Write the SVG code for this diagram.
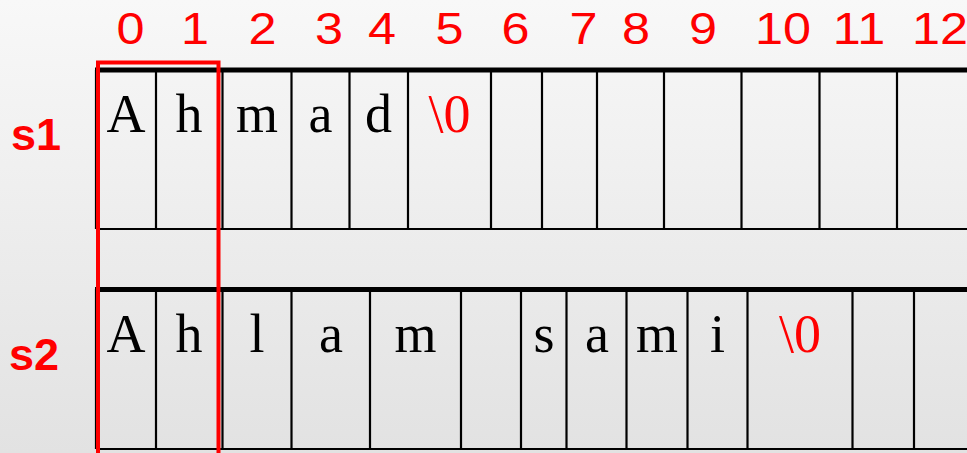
<svg xmlns="http://www.w3.org/2000/svg" width="967" height="453" viewBox="0 0 967 453">
<defs>
<linearGradient id="bg" x1="0" y1="0" x2="0" y2="1">
<stop offset="0" stop-color="#f8f8f8"/>
<stop offset="1" stop-color="#e2e2e2"/>
</linearGradient>
</defs>
<style>
.idx{font-family:"Liberation Sans",Arial,sans-serif;font-size:45px;fill:#ff0000;text-anchor:middle}
.lbl{font-family:"Liberation Sans",Arial,sans-serif;font-size:45px;font-weight:bold;fill:#ff0000}
.ch{font-family:"Liberation Serif","Times New Roman",serif;font-size:54px;fill:#000;text-anchor:middle}
.nul{fill:#ff0000}
.thick{stroke:#000;stroke-width:5;fill:none}
.thin{stroke:#000;stroke-width:2.2;fill:none}
.hl{stroke:#ff0000;stroke-width:4;fill:none}
</style>
<rect x="0" y="0" width="967" height="453" fill="url(#bg)"/>

<g id="indices">
<text class="idx" transform="translate(130.5,44) scale(1.12,1)">0</text>
<text class="idx" transform="translate(195,44) scale(1.12,1)">1</text>
<text class="idx" transform="translate(262.5,44) scale(1.12,1)">2</text>
<text class="idx" transform="translate(329,44) scale(1.12,1)">3</text>
<text class="idx" transform="translate(382,44) scale(1.12,1)">4</text>
<text class="idx" transform="translate(449.5,44) scale(1.12,1)">5</text>
<text class="idx" transform="translate(515.5,44) scale(1.12,1)">6</text>
<text class="idx" transform="translate(583.5,44) scale(1.12,1)">7</text>
<text class="idx" transform="translate(636,44) scale(1.12,1)">8</text>
<text class="idx" transform="translate(703,44) scale(1.12,1)">9</text>
<text class="idx" transform="translate(783,44) scale(1.12,1)">10</text>
<text class="idx" transform="translate(859,44) scale(1.12,1)">11</text>
<text class="idx" transform="translate(940,44) scale(1.12,1)">12</text>
</g>

<g id="s1">
<text class="lbl" x="11" y="150">s1</text>
<line class="thin" x1="96" y1="229" x2="967" y2="229"/>
<path class="thin" d="M96,70V229 M156,70V229 M222.5,70V229 M291.5,70V229 M349.5,70V229 M408,70V229 M491,70V229 M542,70V229 M597,70V229 M664,70V229 M741.5,70V229 M819.5,70V229 M897,70V229"/>
<line class="thick" x1="95" y1="70" x2="967" y2="70"/>
<text class="ch" x="126" y="132">A</text>
<text class="ch" x="189" y="132">h</text>
<text class="ch" x="257" y="132">m</text>
<text class="ch" x="320.5" y="132">a</text>
<text class="ch" x="378.5" y="132">d</text>
<text class="ch nul" x="449.5" y="132">\0</text>
</g>

<g id="s2">
<text class="lbl" x="9" y="370">s2</text>
<line class="thin" x1="96" y1="449" x2="967" y2="449"/>
<path class="thin" d="M96,289V449 M156,289V449 M222.5,289V449 M291.5,289V449 M370,289V449 M461,289V449 M521,289V449 M566.5,289V449 M626.5,289V449 M687.5,289V449 M747.5,289V449 M852.5,289V449 M914,289V449"/>
<line class="thick" x1="95" y1="289.5" x2="967" y2="289.5"/>
<text class="ch" x="126" y="352">A</text>
<text class="ch" x="189" y="352">h</text>
<text class="ch" x="257" y="352">l</text>
<text class="ch" x="331" y="352">a</text>
<text class="ch" x="415.5" y="352">m</text>
<text class="ch" x="544" y="352">s</text>
<text class="ch" x="597" y="352">a</text>
<text class="ch" x="657" y="352">m</text>
<text class="ch" x="717.5" y="352">i</text>
<text class="ch nul" x="800" y="352">\0</text>
</g>

<g id="highlight">
<path class="hl" d="M98,456V62.5H218.5V456"/>
</g>
</svg>
